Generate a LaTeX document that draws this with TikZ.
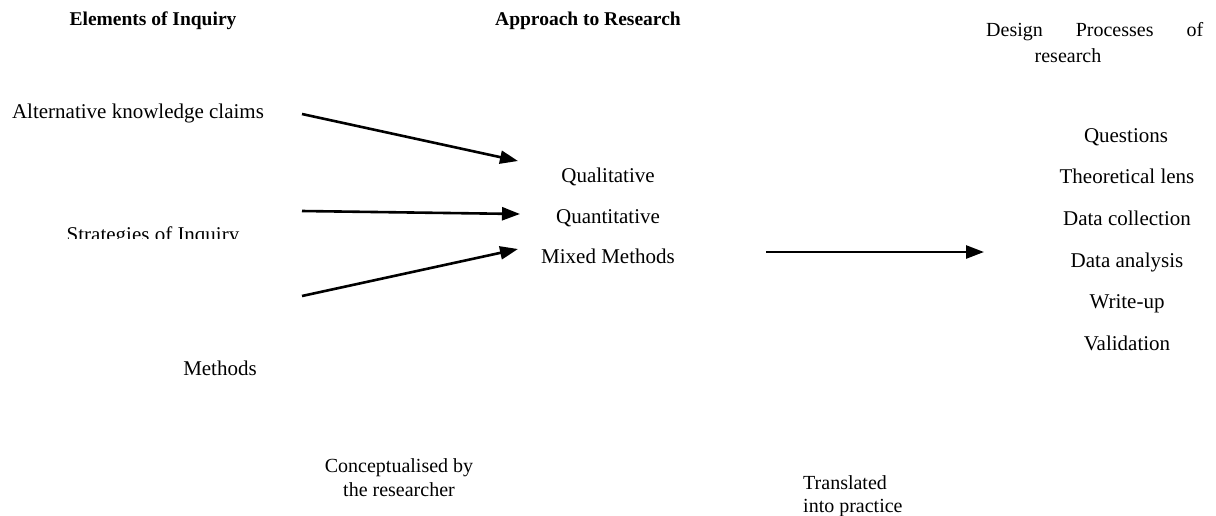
\documentclass[tikz,border=0pt]{standalone}
\usepackage{fontspec}
\setmainfont{Liberation Serif}
\usetikzlibrary{arrows.meta}
\tikzset{
  body/.style={inner sep=0pt, anchor=base, font=\fontsize{21}{26}\selectfont},
  head/.style={inner sep=0pt, anchor=base, font=\fontsize{19.5}{24}\selectfont\bfseries},
  flow/.style={line width=2.6pt, -{Triangle[length=18pt,width=13pt]}}
}
\begin{document}
\begin{tikzpicture}[x=1pt,y=-1pt]
\useasboundingbox (0,0) rectangle (1216,515);
% headers
\node[head] (h1) at (153,25) {Elements of Inquiry};
\node[head] (h2) at (588,25) {Approach to Research};
\node[body, anchor=base west, font=\fontsize{20}{25}\selectfont] (h3a) at (986,36) {\makebox[217pt]{Design\hfill Processes\hfill of}};
\node[body, font=\fontsize{20}{25}\selectfont] (h3b) at (1068,62) {research};
% left column
\node[body] (akc) at (138,118) {Alternative knowledge claims};
\begin{scope}
\clip (0,200) rectangle (400,238);
\node[body] (soi) at (153,241) {Strategies of Inquiry};
\end{scope}
\node[body] (met) at (220,375) {Methods};
% middle column
\node[body] (qual) at (608,182) {Qualitative};
\node[body] (quan) at (608,223) {Quantitative};
\node[body] (mix) at (608,263) {Mixed Methods};
% right column
\node[body] (r1) at (1126,142) {Questions};
\node[body] (r2) at (1127,183) {Theoretical lens};
\node[body] (r3) at (1127,225) {Data collection};
\node[body] (r4) at (1127,267) {Data analysis};
\node[body] (r5) at (1127,308) {Write-up};
\node[body] (r6) at (1127,350) {Validation};
% bottom captions
\node[body, align=center, font=\fontsize{20}{24}\selectfont] (cap1) at (399,496) {Conceptualised by\\the researcher};
\node[body, anchor=base west, align=left, font=\fontsize{20}{23}\selectfont] (cap2) at (803,512) {Translated\\into practice};
% arrow end points
\coordinate (a1s) at (302,114);
\coordinate (a1e) at (518,161);
\coordinate (a2s) at (302,211);
\coordinate (a2e) at (520,214);
\coordinate (a3s) at (302,296);
\coordinate (a3e) at (518,249);
\coordinate (a4s) at (766,252);
\coordinate (a4e) at (984,252);
\draw[flow] (a1s) -- (a1e);
\draw[flow] (a2s) -- (a2e);
\draw[flow] (a3s) -- (a3e);
\draw[flow] (a4s) -- (a4e);
\end{tikzpicture}
\end{document}
